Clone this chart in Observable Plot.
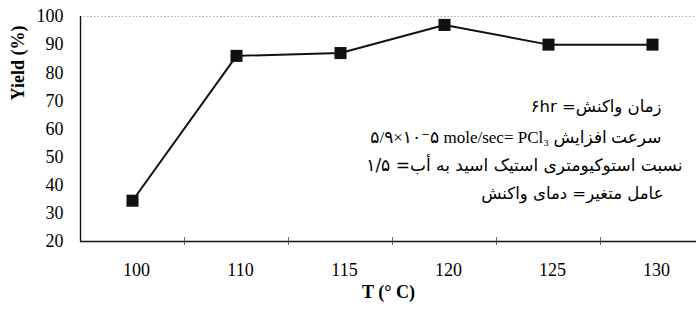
<!DOCTYPE html>
<html>
<head>
<meta charset="utf-8">
<script src="https://cdn.jsdelivr.net/npm/d3@7"></script>
<script src="https://cdn.jsdelivr.net/npm/@observablehq/plot@0.6"></script>
<style>
  html, body { margin: 0; padding: 0; background: #fff; }
</style>
</head>
<body>
<div id="chart"></div>
<script>
// Data
const temps = ["100", "110", "115", "120", "125", "130"];
const yields = [34.5, 86, 87, 97, 90, 90];
const yTicks = [20, 30, 40, 50, 60, 70, 80, 90, 100];
const yLabel = "Yield (%)";
const xLabel = "T (\u00B0 C)";
const notes = [
  "\u202Bزمان واکنش= \u202D۶hr\u202C\u202C",
  "\u202Bسرعت افزایش \u202D۵/۹×۱۰⁻۵ mole/sec= PCl₃\u202C\u202C",
  "\u202Bنسبت استوکیومتری استیک اسید به أب= ۱/۵\u202C",
  "\u202Bعامل متغیر= دمای واکنش\u202C"
];

const rows = temps.map((t, i) => ({pos: i + 0.5, t, y: yields[i]}));
const centers = temps.map((t, i) => i + 0.5);
const bounds = temps.map((t, i) => i + 1).slice(0, temps.length - 1);

const serif = "'Liberation Serif', 'Times New Roman', serif";
const sans = "'DejaVu Sans', sans-serif";
const mixed = "'Liberation Serif', 'DejaVu Sans', serif";

const noteDy = [90, 121, 149, 177];
const noteDx = [-35, -35, -14, -33];
const noteSize = [16.5, 17, 17, 16.5];

const chart = Plot.plot({
  width: 696,
  height: 310,
  marginLeft: 80,
  marginTop: 16,
  marginBottom: 69,
  marginRight: 0,
  style: {background: "white", color: "black", overflow: "visible"},
  x: {domain: [0, temps.length], range: [80, 704], axis: null},
  y: {domain: [20, 100], axis: null},
  marks: [
    Plot.ruleY([100], {stroke: "#aaa", strokeDasharray: "1.5,2", strokeWidth: 1}),
    Plot.ruleY([20], {stroke: "#111", strokeWidth: 1.4}),
    Plot.ruleX([0], {y1: 20, y2: 100, stroke: "#111", strokeWidth: 1.4}),
    Plot.axisX(bounds, {tickSize: 8, dy: -4, tickFormat: () => "", stroke: "#444", strokeWidth: 0.8, label: null}),
    Plot.axisX(centers, {tickSize: 0, tickPadding: 22, tickFormat: (d) => temps[Math.floor(d)], fontSize: 18, fontFamily: serif, label: null, dx: 4}),
    Plot.axisY(yTicks, {tickSize: 0, tickPadding: 17, fontSize: 18, fontFamily: serif, label: null}),
    Plot.line(rows, {x: "pos", y: "y", stroke: "#111", strokeWidth: 2}),
    Plot.dot(rows, {x: "pos", y: "y", symbol: "square", r: 6.8, fill: "#111", stroke: "none"}),
    Plot.text([yLabel], {frameAnchor: "left", textAnchor: "middle", rotate: -90, dx: -62, dy: -66, fontWeight: "bold", fontSize: 18, fontFamily: serif}),
    Plot.text([xLabel], {frameAnchor: "bottom", dy: 56, fontWeight: "bold", fontSize: 18, fontFamily: serif}),
    ...notes.map((n, i) => Plot.text([n], {
      frameAnchor: "top-right", textAnchor: "end", lineAnchor: "middle",
      dx: noteDx[i], dy: noteDy[i], fontSize: noteSize[i],
      fontFamily: i === 1 ? mixed : sans
    }))
  ]
});
document.getElementById("chart").appendChild(chart);
</script>
</body>
</html>
